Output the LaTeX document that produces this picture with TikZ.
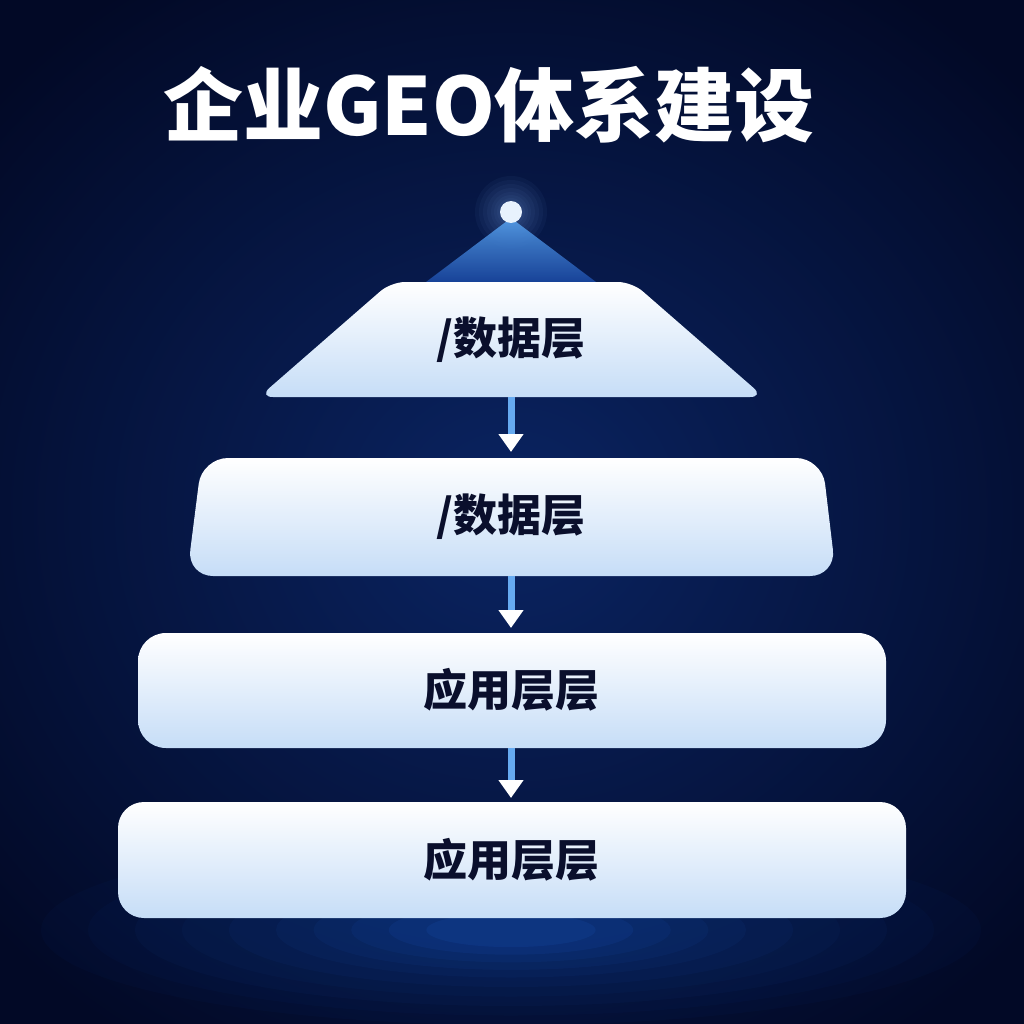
\documentclass[tikz,border=0pt]{standalone}
\usepackage{fontspec}
\newfontfamily\cjk{Noto Sans CJK SC}
\usetikzlibrary{arrows.meta}
\definecolor{bgin}{HTML}{0A2462}
\definecolor{bgout}{HTML}{020926}
\definecolor{boxtop}{HTML}{FFFFFF}
\definecolor{boxbot}{HTML}{C6DDF7}
\definecolor{txt}{HTML}{0A0F2C}
\definecolor{shaft}{HTML}{66AAF0}
\definecolor{glow}{HTML}{1E63D6}
\definecolor{conetop}{HTML}{5AA6F2}
\definecolor{conebot}{HTML}{1B4AA6}
\tikzset{
  layerbox/.style={top color=boxtop, bottom color=boxbot, draw=none},
  layertext/.style={font=\cjk\bfseries\fontsize{44}{48}\selectfont, text=txt, inner sep=0pt},
  flow/.style={draw=shaft, line width=7pt, -{Triangle[width=24pt,length=18pt,color=white]}}
}
\begin{document}
\begin{tikzpicture}[x=1pt,y=-1pt]
\useasboundingbox (0,0) rectangle (1024,1024);
% background
\shade[inner color=bgin, outer color=bgout] (-180,-120) rectangle (1204,1144);
% bottom glow
\foreach \r/\o in {1.00/0.03,0.9/0.03,0.8/0.04,0.7/0.04,0.6/0.05,0.5/0.06,0.42/0.07,0.34/0.08,0.26/0.10,0.18/0.12}{
  \fill[glow, opacity=\o] (511,930) ellipse ({470*\r} and {95*\r});
}
% cone and dot
\foreach \r in {36,32,28,24,20,17,14}{
  \fill[glow!60!white, opacity=0.05] (511,212) circle (\r);
}
\shade[top color=conetop, bottom color=conebot, opacity=0.85] (511,218) -- (596,282) -- (426,282) -- cycle;
\fill[white!85!shaft] (511,212) circle (11);
% layer shapes
\shade[layerbox, rounded corners=14] (391,282) -- (632,282) -- (764,397) -- (259,397) -- cycle;
\shade[layerbox, rounded corners=26] (202,458) -- (822,458) -- (836,576) -- (187,576) -- cycle;
\shade[layerbox, rounded corners=28] (138,633) rectangle (886,748);
\shade[layerbox, rounded corners=26] (118,802) rectangle (906,918);
% texts
\node[font=\cjk\bfseries\fontsize{80}{86}\selectfont, text=white, inner sep=0pt] (title) at (489,105) {企业GEO体系建设};
\node[layertext] (l1) at (511,340) {/数据层};
\node[layertext] (l2) at (511,517) {/数据层};
\node[layertext] (l3) at (511,690) {应用层层};
\node[layertext] (l4) at (511,860) {应用层层};
% connectors
\coordinate (a1s) at (511,397); \coordinate (a1e) at (511,452);
\coordinate (a2s) at (511,576); \coordinate (a2e) at (511,628);
\coordinate (a3s) at (511,748); \coordinate (a3e) at (511,798);
\draw[flow] (a1s) -- (a1e);
\draw[flow] (a2s) -- (a2e);
\draw[flow] (a3s) -- (a3e);
\end{tikzpicture}
\end{document}
